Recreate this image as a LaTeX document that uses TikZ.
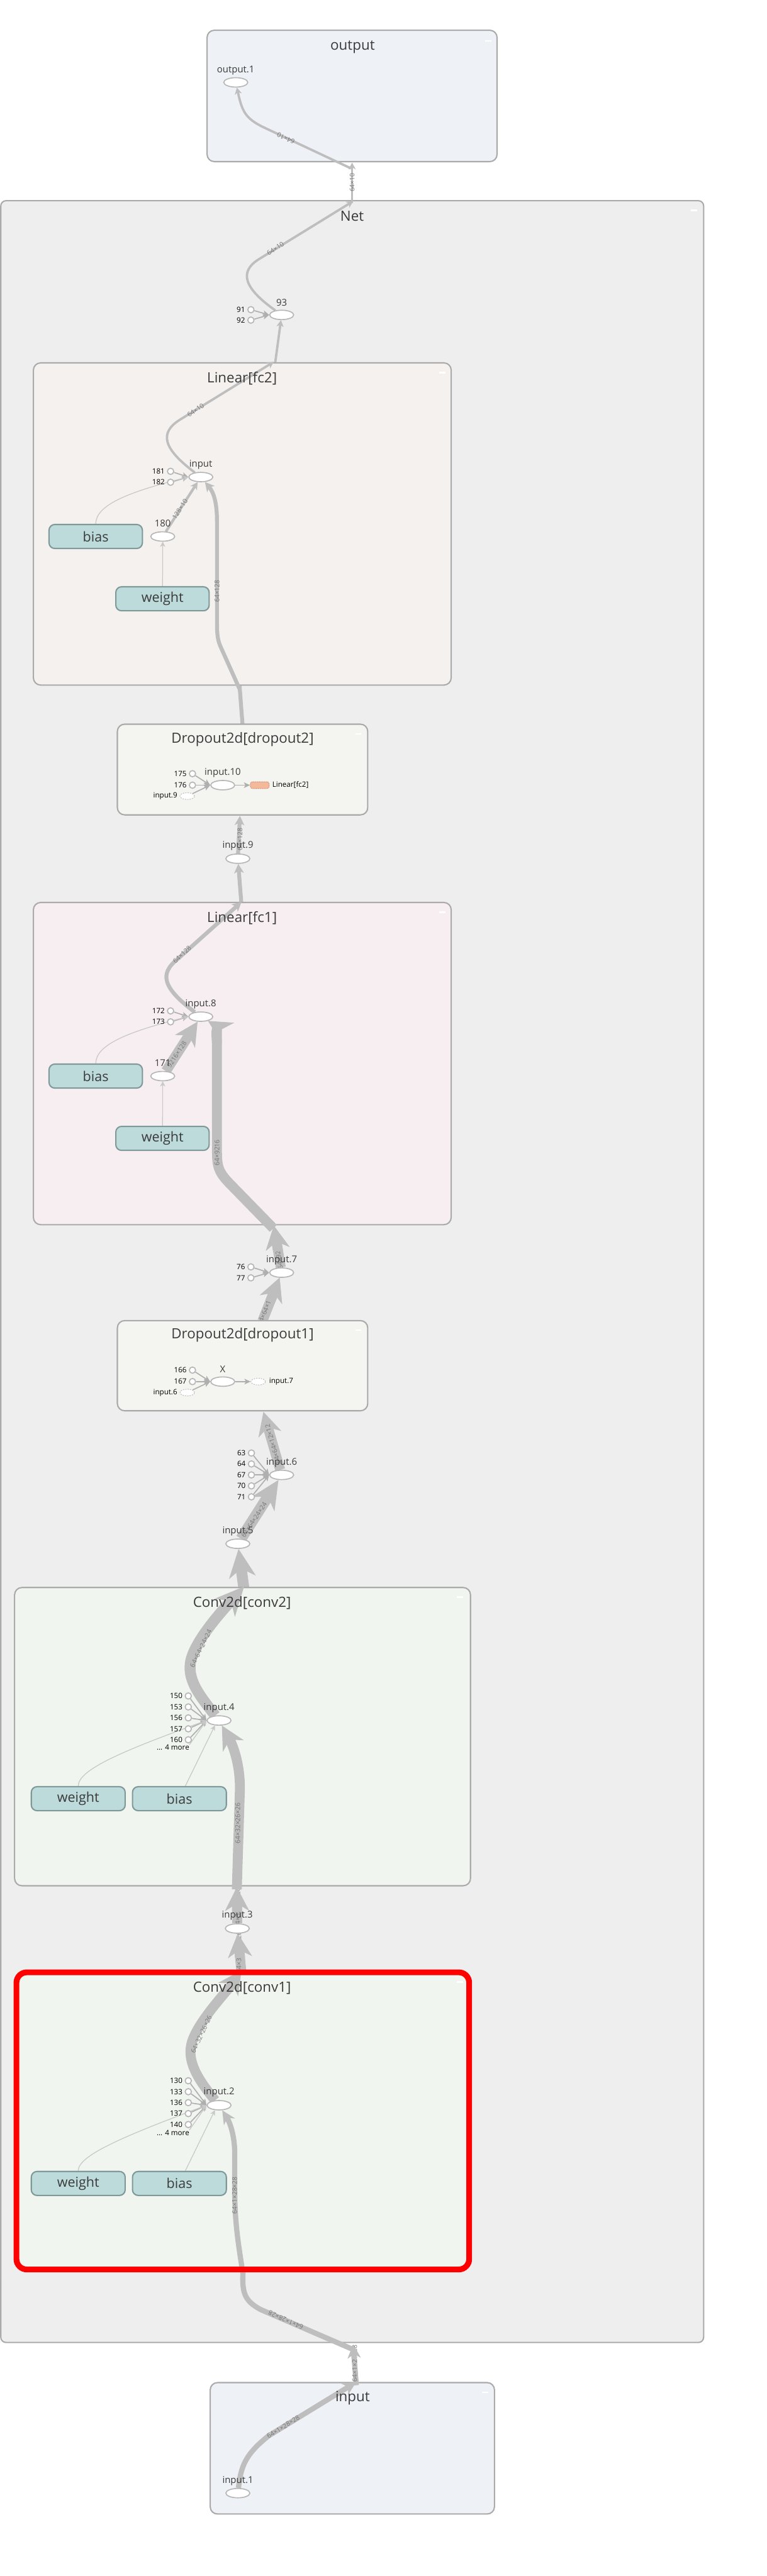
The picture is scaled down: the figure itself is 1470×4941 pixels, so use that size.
\documentclass[tikz,border=0pt]{standalone}
\usepackage{fontspec}
\setmainfont{Open Sans}
\usetikzlibrary{arrows.meta,shapes.geometric,calc}
\pgfdeclarelayer{Lzero}
\pgfdeclarelayer{Lone}
\pgfdeclarelayer{Ltwo}
\pgfdeclarelayer{Lthree}
\pgfdeclarelayer{Lfour}
\pgfdeclarelayer{Lfive}
\pgfsetlayers{Lzero,Lone,Ltwo,Lthree,Lfour,Lfive,main}
\definecolor{edgec}{RGB}{190,190,190}
\definecolor{thinc}{RGB}{200,200,200}
\definecolor{conc}{RGB}{175,175,175}
\definecolor{nodeb}{RGB}{182,182,182}
\definecolor{dshc}{RGB}{190,190,190}
\definecolor{grpb}{RGB}{170,170,170}
\definecolor{netfill}{RGB}{238,238,238}
\definecolor{iofill}{RGB}{238,241,246}
\definecolor{fctwofill}{RGB}{245,241,238}
\definecolor{fconefill}{RGB}{247,238,241}
\definecolor{dropfill}{RGB}{244,244,240}
\definecolor{convfill}{RGB}{241,245,239}
\definecolor{parfill}{RGB}{190,219,219}
\definecolor{parb}{RGB}{127,153,153}
\definecolor{titlec}{RGB}{58,58,58}
\definecolor{labc}{RGB}{118,118,118}
\definecolor{orfill}{RGB}{244,185,155}
\definecolor{orb}{RGB}{205,140,110}
\tikzset{
  ttl/.style={font=\fontsize{27}{32}\selectfont, text=titlec, inner sep=0pt},
  nlab/.style={font=\fontsize{18}{21}\selectfont, text=titlec, inner sep=0pt},
  clab/.style={font=\fontsize{14}{16}\selectfont, text=black, inner sep=0pt, anchor=east},
  elab/.style={font=\fontsize{12.5}{14}\selectfont, text=labc, inner sep=0pt},
  op/.style={ellipse, draw=nodeb, fill=white, line width=2pt, minimum width=46pt, minimum height=18pt, inner sep=0pt},
  cst/.style={circle, draw=nodeb, fill=white, line width=2pt, minimum size=12pt, inner sep=0pt},
  dsh/.style={ellipse, draw=dshc, fill=white, line width=1.2pt, dash pattern=on 2.5pt off 2pt, minimum width=28pt, minimum height=13pt, inner sep=0pt},
  orn/.style={rectangle, rounded corners=4pt, draw=orb, fill=orfill, line width=1.2pt, dash pattern=on 2pt off 1.5pt, minimum width=36pt, minimum height=13pt, inner sep=0pt},
  par/.style={rectangle, rounded corners=11pt, draw=parb, fill=parfill, line width=2.5pt, minimum width=179pt, minimum height=46pt, inner sep=0pt, font=\fontsize{26}{30}\selectfont, text=titlec},
  grp/.style={draw=grpb, line width=2.5pt, rounded corners=14pt},
  ethin/.style={draw=thinc, line width=1.5pt, -{Stealth[length=10pt,width=10pt,inset=3pt,line width=0pt]}},
  econ/.style={draw=conc, line width=2pt, -{Stealth[length=12pt,width=11pt,inset=3pt,line width=0pt]}},
  eA/.style={draw=edgec, line width=4.5pt, -{Stealth[length=13pt,width=14pt,inset=4pt,line width=0pt]}},
  eAb/.style={draw=edgec, line width=5pt, -{Stealth[length=14pt,width=15pt,inset=4pt,line width=0pt]}},
  eB/.style={draw=edgec, line width=7.5pt, -{Stealth[length=18pt,width=19pt,inset=5pt,line width=0pt]}},
  eC/.style={draw=edgec, line width=10pt, -{Stealth[length=26pt,width=25pt,inset=8pt,line width=0pt]}},
  eD/.style={draw=edgec, line width=19pt, -{Stealth[length=45pt,width=46pt,inset=14pt,line width=0pt]}},
  eE/.style={draw=edgec, line width=21pt, -{Stealth[length=55pt,width=52pt,inset=17pt,line width=0pt]}},
}
\begin{document}
\begin{tikzpicture}[x=1pt,y=-1pt]
\useasboundingbox (0,0) rectangle (1470,4941);
\begin{pgfonlayer}{Lzero}
\fill[white] (0,0) rectangle (1470,4941);
\draw[grp, fill=iofill] (397,58) rectangle (953,310);
\draw[grp, fill=iofill] (403,4570) rectangle (948,4822);
\draw[draw=grpb, line width=2.5pt, rounded corners=10pt, fill=netfill] (1.5,385) rectangle (1349,4493);
\fill[white] (930,77) rectangle (942,80);
\fill[white] (924,4587) rectangle (936,4590);
\fill[white] (1325,402) rectangle (1337,405);
\end{pgfonlayer}

% ---------- coordinates at group borders
\coordinate (oB) at (675,312);
\coordinate (oIn) at (673,323);
\coordinate (netTip) at (677,386);
\coordinate (netS) at (675,390);
\coordinate (fctwoTip) at (525,694);
\coordinate (fctwoS) at (527,700);
\coordinate (fctwoBTip) at (459,1312);
\coordinate (fctwoBS) at (459,1321);
\coordinate (dtwoT) at (465,1390);
\coordinate (dtwoBTip) at (460,1565);
\coordinate (fconeTip) at (463,1730);
\coordinate (fconeS) at (463,1736);
\coordinate (fconeBTip) at (525,2351);
\coordinate (fconeBS) at (524,2356);
\coordinate (doneT) at (503,2534);
\coordinate (doneBTip) at (505,2708);
\coordinate (ctwoTip) at (468,3043);
\coordinate (ctwoS) at (468,3050);
\coordinate (ctwoBTip) at (454,3620);
\coordinate (ctwoBS) at (454,3624);
\coordinate (coneTip) at (463,3779);
\coordinate (coneS) at (463,3785);
\coordinate (coneBTip) at (466,4352);
\coordinate (coneBS) at (466,4362);
\coordinate (netBTip) at (677,4497);
\coordinate (netBS) at (676,4506);
\coordinate (inTip) at (683,4569);
\coordinate (inS) at (683,4575);

% ---------- titles
\node[ttl] at (676,90) {output};
\node[ttl] at (675,415) {Net};
\node[ttl] at (464,726) {Linear[fc2]};
\node[ttl] at (465,1418) {Dropout2d[dropout2]};
\node[ttl] at (464,1761) {Linear[fc1]};
\node[ttl] at (465,2561) {Dropout2d[dropout1]};
\node[ttl] at (464,3075) {Conv2d[conv2]};
\node[ttl] at (464,3813) {Conv2d[conv1]};
\node[ttl] at (676,4600) {input};

% ---------- outer nodes
\node[op] (o1) at (452,158) {};
\node[nlab] at (452,135) {output.1};
\node[op] (n93) at (540,604) {};
\node[nlab] at (540,580) {93};
\node[cst] (c91) at (481,594) {}; \node[clab] at (470,594) {91};
\node[cst] (c92) at (481,614) {}; \node[clab] at (470,614) {92};
\node[op] (n9) at (456,1647) {};
\node[nlab] at (456,1622) {input.9};
\node[op] (n7) at (540,2441) {};
\node[nlab] at (540,2417) {input.7};
\node[cst] (c76) at (481,2430) {}; \node[clab] at (470,2430) {76};
\node[cst] (c77) at (481,2451) {}; \node[clab] at (470,2451) {77};
\node[op] (n6) at (540,2829) {};
\node[nlab] at (540,2805) {input.6};
\node[cst] (c63) at (482,2787) {}; \node[clab] at (471,2787) {63};
\node[cst] (c64) at (482,2808) {}; \node[clab] at (471,2808) {64};
\node[cst] (c67) at (482,2829) {}; \node[clab] at (471,2829) {67};
\node[cst] (c70) at (482,2850) {}; \node[clab] at (471,2850) {70};
\node[cst] (c71) at (482,2871) {}; \node[clab] at (471,2871) {71};
\node[op] (n5) at (456,2961) {};
\node[nlab] at (456,2937) {input.5};
\node[op] (n3) at (455,3699) {};
\node[nlab] at (455,3674) {input.3};
\node[op] (in1) at (456,4782) {};
\node[nlab] at (456,4758) {input.1};

% ---------- fc2 nodes
\node[op] (in2) at (385,915) {};
\node[nlab] at (385,891) {input};
\node[cst] (c181) at (327,904) {}; \node[clab] at (316,904) {181};
\node[cst] (c182) at (327,925) {}; \node[clab] at (316,925) {182};
\node[op] (n180) at (312,1029) {};
\node[nlab] at (312,1004) {180};
\node[par] (b2) at (183.5,1029) {bias};
\node[par] (w2) at (311.5,1148.5) {weight};

% ---------- dropout2 nodes
\node[cst] (c175) at (369,1484) {}; \node[clab] at (358,1484) {175};
\node[cst] (c176) at (369,1506) {}; \node[clab] at (358,1506) {176};
\node[dsh] (d9) at (359,1527) {}; \node[clab] at (340,1527) {input.9};
\node[op] (in10) at (427,1506) {};
\node[nlab] at (427,1482) {input.10};
\node[orn] (lf2) at (498,1506) {};
\node[clab, anchor=west] at (522,1506) {Linear[fc2]};

% ---------- fc1 nodes
\node[op] (in8) at (385,1950) {};
\node[nlab] at (385,1926) {input.8};
\node[cst] (c172) at (327,1939) {}; \node[clab] at (316,1939) {172};
\node[cst] (c173) at (327,1960) {}; \node[clab] at (316,1960) {173};
\node[op] (n171) at (312,2064) {};
\node[nlab] at (312,2039) {171};
\node[par] (b1) at (183.5,2064) {bias};
\node[par] (w1) at (311.5,2183.5) {weight};

% ---------- dropout1 nodes
\node[cst] (c166) at (369,2628) {}; \node[clab] at (358,2628) {166};
\node[cst] (c167) at (369,2650) {}; \node[clab] at (358,2650) {167};
\node[dsh] (d6) at (359,2671) {}; \node[clab] at (340,2671) {input.6};
\node[op] (nX) at (427,2650) {};
\node[nlab] at (427,2626) {X};
\node[dsh] (d7) at (495,2650) {};
\node[clab, anchor=west] at (516,2650) {input.7};

% ---------- conv2 nodes
\node[op] (in4) at (420,3300) {};
\node[nlab] at (420,3276) {input.4};
\node[cst] (c150) at (361,3253) {}; \node[clab] at (350,3253) {150};
\node[cst] (c153) at (361,3274) {}; \node[clab] at (350,3274) {153};
\node[cst] (c156) at (361,3295) {}; \node[clab] at (350,3295) {156};
\node[cst] (c157) at (361,3316) {}; \node[clab] at (350,3316) {157};
\node[cst] (c160) at (361,3337) {}; \node[clab] at (350,3337) {160};
\node[clab] (m4) at (363,3352) {... 4 more};
\node[par, minimum width=180pt] (w4) at (150,3450) {weight};
\node[par, minimum width=180pt] (b4) at (344,3450) {bias};

% ---------- conv1 nodes
\node[op] (in2c) at (420,4038) {};
\node[nlab] at (420,4013) {input.2};
\node[cst] (c130) at (361,3991) {}; \node[clab] at (350,3991) {130};
\node[cst] (c133) at (361,4012) {}; \node[clab] at (350,4012) {133};
\node[cst] (c136) at (361,4033) {}; \node[clab] at (350,4033) {136};
\node[cst] (c137) at (361,4054) {}; \node[clab] at (350,4054) {137};
\node[cst] (c140) at (361,4075) {}; \node[clab] at (350,4075) {140};
\node[clab] (m1) at (363,4091) {... 4 more};
\node[par, minimum width=180pt] (wc) at (150,4188) {weight};
\node[par, minimum width=180pt] (bc) at (344,4188) {bias};

% ---------- outer edges
\begin{pgfonlayer}{Lone}
\draw[eA] (netS) -- (oB);
\draw[eA] (oIn) -- (505,244) .. controls (470,227) and (464,213) .. (o1);
\draw[eA] (n93) .. controls (468,553) and (458,522) .. (495,498) -- (netTip);
\draw[eA] (fctwoS) -- (n93);
\draw[econ] (c91) -- (n93.west);
\draw[econ] (c92) -- (n93.west);
\draw[eB, -] (dtwoT) -- (fctwoBTip);
\draw[eB] (n9) -- (dtwoBTip);
\draw[eB] (fconeS) -- (n9);
\draw[eD] (n7) -- (fconeBTip);
\draw[econ] (c76) -- (n7.west);
\draw[econ] (c77) -- (n7.west);
\draw[eD] (doneT) -- (n7);
\draw[eD] (n6) -- (doneBTip);
\foreach \c in {c63,c64,c67,c70,c71} \draw[econ] (\c) -- (n6.west);
\draw[eE] (n5) -- (n6);
\draw[eE] (ctwoS) -- (n5);
\draw[eD] (n3) -- (ctwoBTip);
\draw[eD] (coneS) -- (n3);
\draw[eC, -] (netBS) -- (500,4430) .. controls (466,4412) and (464,4395) .. (coneBTip);
\draw[eC] (inS) -- (netBTip);
\draw[eC] (in1) .. controls (462,4730) and (470,4708) .. (515,4672) -- (inTip);
\end{pgfonlayer}

% ---------- outer edge labels and tips over them
\begin{pgfonlayer}{Ltwo}
\node[elab, rotate=90] at (675,350) {64×10};
\node[elab, rotate=155] at (548,265) {64×10};
\node[elab, rotate=32] at (528,477) {64×10};
\node[elab, rotate=90] at (460,1610) {64×128};
\node[elab, rotate=100] at (534,2410) {64×9216};
\node[elab, rotate=68] at (512,2505) {64×64×12×12};
\node[elab, rotate=106] at (523,2770) {64×64×12×12};
\node[elab, rotate=57] at (487,2915) {64×64×24×24};
\node[elab, rotate=90] at (456,3660) {64×32×26×26};
\node[elab, rotate=90] at (458,3745) {64×32×26×26};
\node[elab, rotate=156] at (548,4450) {64×1×28×28};
\node[elab, rotate=90] at (680,4533) {64×1×28×28};
\node[elab, rotate=32] at (543,4655) {64×1×28×28};
\draw[eD] ($(n7)!0.45!(fconeBTip)$) -- (fconeBTip);
\draw[eD] ($(n7)!0.6!(doneT)$) -- (n7);
\draw[eD] ($(n3)!0.65!(coneS)$) -- (n3);
\draw[eD] ($(n3)!0.4!(ctwoBTip)$) -- (ctwoBTip);
\draw[eC] ($(netBTip)!0.36!(inS)$) -- (netBTip);
\end{pgfonlayer}

% ---------- child group boxes
\begin{pgfonlayer}{Lthree}
\draw[grp, fill=fctwofill] (64,696) rectangle (865,1314);
\draw[grp, fill=dropfill] (225,1389) rectangle (705,1563);
\draw[grp, fill=fconefill] (64,1731) rectangle (865,2349);
\draw[grp, fill=dropfill] (225,2533) rectangle (705,2706);
\draw[grp, fill=convfill] (28,3045) rectangle (902,3617);
\fill[convfill, rounded corners=20pt] (31.5,3783) rectangle (899.5,4353);
\fill[white] (842,713) rectangle (854,716);
\fill[white] (681,1406) rectangle (693,1409);
\fill[white] (842,1748) rectangle (854,1751);
\fill[white] (681,2550) rectangle (693,2553);
\fill[white] (876,3062) rectangle (888,3065);
\fill[white] (876,3800) rectangle (888,3803);
\end{pgfonlayer}

% ---------- child edges
\begin{pgfonlayer}{Lfour}
% fc2
\draw[econ] (c181) -- (in2.west);
\draw[econ] (c182) -- (in2.west);
\draw[ethin] (b2.north) .. controls (184,970) and (240,945) .. (in2.west);
\draw[eAb] (n180) -- (in2);
\draw[ethin] (w2) -- (n180);
\draw[eB] (fctwoBS) -- (425,1245) .. controls (417,1228) and (416,1220) .. (416,1190) -- (416,1000) .. controls (416,965) and (410,945) .. (in2);
\draw[eA] (in2) .. controls (312,860) and (305,830) .. (345,805) -- (fctwoTip);
% dropout2
\draw[econ] (c175) -- (in10.west);
\draw[econ] (c176) -- (in10.west);
\draw[econ] (d9) -- (in10.west);
\draw[econ] (in10) -- (lf2);
% fc1
\draw[econ] (c172) -- (in8.west);
\draw[econ] (c173) -- (in8.west);
\draw[ethin] (b1.north) .. controls (184,2005) and (240,1980) .. (in8.west);
\draw[eD] (n171) -- (in8);
\draw[ethin] (w1) -- (n171);
\draw[eD] (fconeBS) -- (445,2275) .. controls (420,2250) and (416,2240) .. (416,2210) -- (416,2010) .. controls (416,1985) and (410,1965) .. (in8);
\draw[eB] (in8) .. controls (312,1895) and (305,1868) .. (340,1840) -- (fconeTip);
% dropout1
\draw[econ] (c166) -- (nX.west);
\draw[econ] (c167) -- (nX.west);
\draw[econ] (d6) -- (nX.west);
\draw[econ] (nX) -- (d7);
% conv2
\foreach \c in {c150,c153,c156,c157,c160} \draw[econ] (\c) -- (in4.west);
\draw[ethin] (m4.north east) -- (in4.west);
\draw[ethin] (w4.north) .. controls (150,3395) and (230,3360) .. (in4.west);
\draw[ethin] (b4.65) -- (in4.230);
\draw[eD] (ctwoBS) -- (460,3430) .. controls (460,3380) and (445,3345) .. (in4);
\draw[eE] (in4) .. controls (385,3255) and (360,3225) .. (365,3190) .. controls (370,3150) and (430,3085) .. (ctwoTip);
% conv1
\foreach \c in {c130,c133,c136,c137,c140} \draw[econ] (\c) -- (in2c.west);
\draw[ethin] (m1.north east) -- (in2c.west);
\draw[ethin] (wc.north) .. controls (150,4135) and (230,4100) .. (in2c.west);
\draw[ethin] (bc.65) -- (in2c.230);
\draw[eC] (coneBS) .. controls (456,4300) and (450,4260) .. (450,4200) -- (450,4130) .. controls (450,4095) and (440,4070) .. (in2c);
\draw[eD] (in2c) .. controls (385,3995) and (360,3960) .. (366,3925) .. controls (372,3885) and (435,3820) .. (coneTip);
\end{pgfonlayer}

% ---------- child edge labels
\begin{pgfonlayer}{Lfive}
\node[elab, rotate=35] at (375,787) {64×10};
\node[elab, rotate=57] at (345,977) {128×10};
\node[elab, rotate=90] at (416,1134) {64×128};
\node[elab, rotate=44] at (349,1831) {64×128};
\node[elab, rotate=57] at (339,2022) {9216×128};
\node[elab, rotate=90] at (416,2211) {64×9216};
\node[elab, rotate=64] at (385,3162) {64×64×24×24};
\node[elab, rotate=90] at (456,3497) {64×32×26×26};
\node[elab, rotate=65] at (386,3902) {64×32×26×26};
\node[elab, rotate=90] at (450,4211) {64×1×28×28};
\end{pgfonlayer}

% ---------- selection border
\draw[draw=red, line width=11pt, rounded corners=20pt] (31.5,3783) rectangle (899.5,4353);
\end{tikzpicture}
\end{document}
